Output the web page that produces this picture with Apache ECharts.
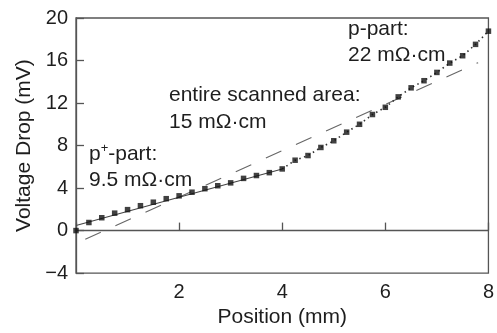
<!DOCTYPE html>
<html><head><meta charset="utf-8">
<script src="https://cdn.jsdelivr.net/npm/echarts@6/dist/echarts.min.js"></script>
<style>html,body{margin:0;padding:0;background:#fff}#c{width:497px;height:333px}</style>
</head><body><div id="c"></div>
<script>
var positions = [0, 0.25, 0.5, 0.75, 1, 1.25, 1.5, 1.75, 2, 2.25, 2.5, 2.75, 3, 3.25, 3.5, 3.75, 4,
                 4.25, 4.5, 4.75, 5, 5.25, 5.5, 5.75, 6, 6.25, 6.5, 6.75, 7, 7.25, 7.5, 7.75, 8];
var voltage = [0.0, 0.76, 1.21, 1.64, 1.97, 2.34, 2.67, 3.0, 3.27, 3.61, 3.94, 4.22, 4.49, 4.91, 5.18, 5.45, 5.8,
               6.62, 7.06, 7.82, 8.45, 9.26, 10.0, 10.92, 11.6, 12.58, 13.43, 14.1, 14.88, 15.76, 16.45, 17.52, 18.76];
var pPlusFitX = [0, 4];
var pPlusFitY = [0.47, 5.8];
var overallFitX = [0.18, 7.8];
var overallFitY = [-0.82, 15.8];
var xTicks = [0, 2, 4, 6, 8];
var yTicks = [-4, 0, 4, 8, 12, 16, 20];

var FONT = 'Liberation Sans, Arial, Helvetica, sans-serif';
var TXT = '#1e1e1e';
var FS = 21;
function pairs(xs, ys){ return xs.map(function(x,i){ return [x, ys[i]]; }); }
var allPts = pairs(positions, voltage);
var pPart = allPts.filter(function(p){ return p[0] >= 4; });

var chart = echarts.init(document.getElementById('c'), null, {renderer:'canvas'});
chart.setOption({
  animation: false,
  backgroundColor: '#fff',
  grid: {left: 76, right: 8, top: 18, bottom: 51, show: true, borderColor: '#555', borderWidth: 1.3, backgroundColor: 'transparent'},
  xAxis: {
    type: 'value', min: xTicks[0], max: xTicks[xTicks.length-1], interval: 2,
    name: 'Position (mm)', nameLocation: 'middle', nameGap: 26,
    nameTextStyle: {fontFamily: FONT, fontSize: FS, color: TXT},
    axisLine: {lineStyle: {color: '#555', width: 1.3}},
    axisTick: {inside: true, length: 8, lineStyle: {color: '#555', width: 1.3}},
    axisLabel: {margin: 9, fontFamily: FONT, fontSize: 20, color: TXT,
      formatter: function(v){ return v === 0 ? '' : String(v); }},
    splitLine: {show: false}
  },
  yAxis: {
    type: 'value', min: yTicks[0], max: yTicks[yTicks.length-1], interval: 4,
    name: 'Voltage Drop (mV)', nameLocation: 'middle', nameGap: 39,
    nameTextStyle: {fontFamily: FONT, fontSize: FS, color: TXT},
    axisLine: {lineStyle: {color: '#555', width: 1.3}},
    axisTick: {inside: true, length: 8, lineStyle: {color: '#555', width: 1.3}},
    axisLabel: {margin: 8, fontFamily: FONT, fontSize: 20, color: TXT,
      formatter: function(v){ return v < 0 ? '\u2212' + Math.abs(v) : String(v); }},
    splitLine: {show: false}
  },
  series: [
    {type: 'line', data: pairs(overallFitX, overallFitY), showSymbol: false, symbol: 'none',
     lineStyle: {color: '#666', width: 1.1, type: [17, 16]}, z: 2},
    {type: 'line', data: pairs(pPlusFitX, pPlusFitY), showSymbol: false, symbol: 'none',
     lineStyle: {color: '#444', width: 1.1}, z: 3},
    {type: 'line', data: pPart, showSymbol: false, symbol: 'none',
     lineStyle: {color: '#333', width: 1.6, type: [1.5, 3.5]}, z: 3},
    {type: 'scatter', data: allPts, symbol: 'rect', symbolSize: 5.5,
     itemStyle: {color: '#111'}, z: 5}
  ],
  graphic: [
    {type: 'text', left: 89, top: 142, style: {text: '{a|p}{s|+}{a|-part:}', rich: {
       a: {fontFamily: FONT, fontSize: FS, fill: TXT, color: TXT},
       s: {fontFamily: FONT, fontSize: 13, fill: TXT, color: TXT, verticalAlign: 'top', padding: [0,0,11,0]}
     }}},
    {type: 'text', left: 89, top: 170, style: {text: '9.5 m\u03A9\u00B7cm', font: FS + 'px ' + FONT, fill: TXT}},
    {type: 'text', left: 169, top: 85, style: {text: 'entire scanned area:', font: FS + 'px ' + FONT, fill: TXT}},
    {type: 'text', left: 169, top: 112, style: {text: '15 m\u03A9\u00B7cm', font: FS + 'px ' + FONT, fill: TXT}},
    {type: 'text', left: 348, top: 19, style: {text: 'p-part:', font: FS + 'px ' + FONT, fill: TXT}},
    {type: 'text', left: 348, top: 45, style: {text: '22 m\u03A9\u00B7cm', font: FS + 'px ' + FONT, fill: TXT}}
  ]
});
</script></body></html>
